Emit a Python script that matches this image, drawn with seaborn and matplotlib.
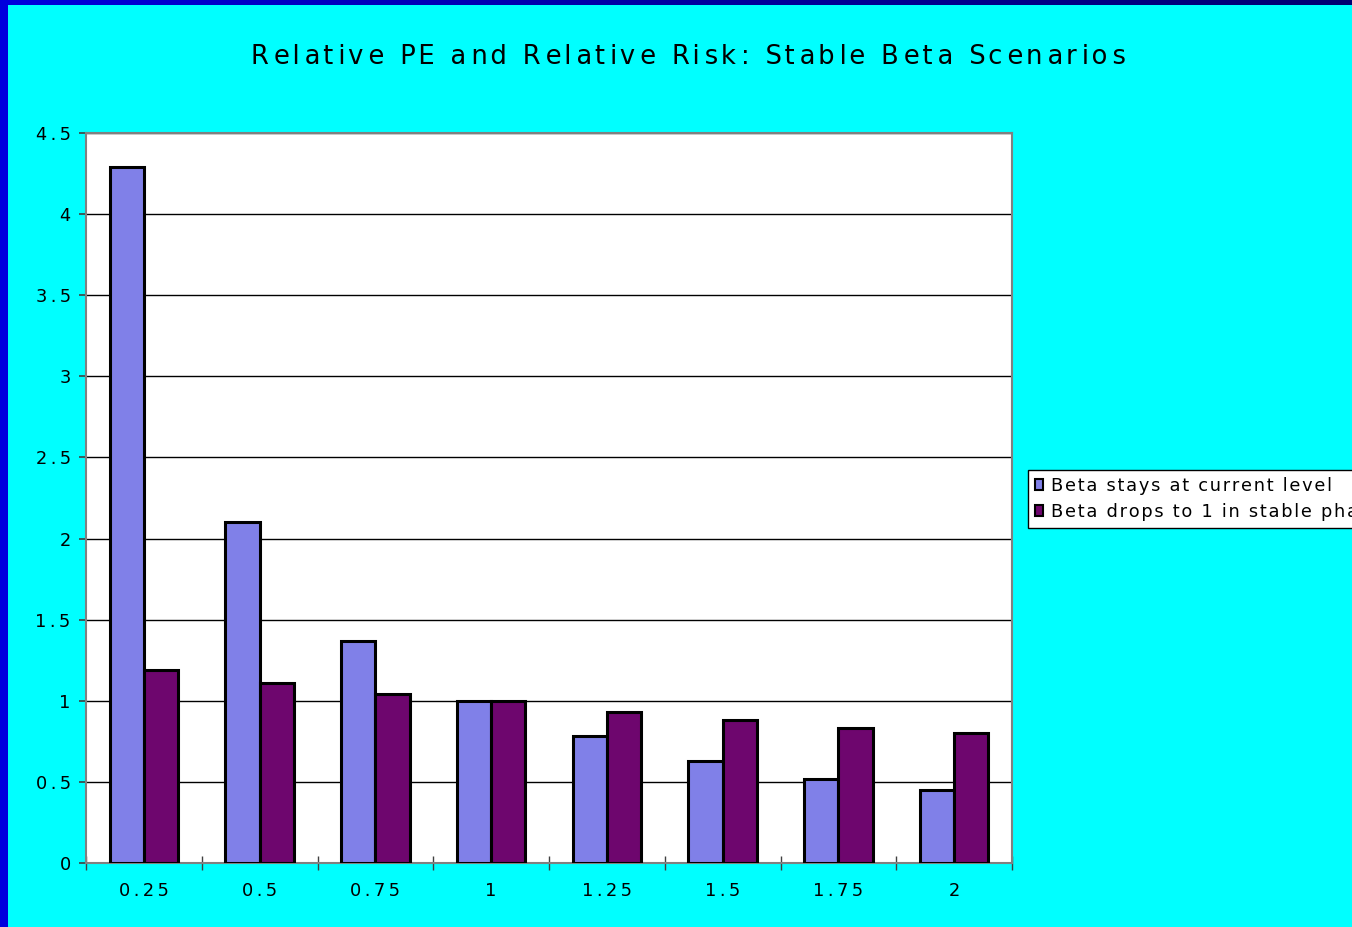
import numpy as np
import pandas as pd
import matplotlib
matplotlib.use("Agg")
import matplotlib.pyplot as plt
from matplotlib.patches import Patch, Rectangle
from matplotlib.ticker import FixedLocator
import seaborn as sns

# Beta levels and relative PE under the two stable-phase scenarios
betas = ["0.25", "0.5", "0.75", "1", "1.25", "1.5", "1.75", "2"]
beta_stays = [4.29, 2.10, 1.37, 1.00, 0.78, 0.63, 0.52, 0.45]
beta_drops = [1.19, 1.11, 1.04, 1.00, 0.93, 0.88, 0.83, 0.80]
series_names = ["Beta stays at current level", "Beta drops to 1 in stable phase"]
y_ticks = [0, 0.5, 1, 1.5, 2, 2.5, 3, 3.5, 4, 4.5]
y_tick_labels = ["0", "0.5", "1", "1.5", "2", "2.5", "3", "3.5", "4", "4.5"]
title = "Relative PE and Relative Risk: Stable Beta Scenarios"

df = pd.DataFrame({
    "beta": betas * 2,
    "pe": beta_stays + beta_drops,
    "scenario": [series_names[0]] * len(betas) + [series_names[1]] * len(betas),
})

sns.set_theme(style="white")
plt.rcParams["font.family"] = ["DejaVu Sans"]

THIN = "\u2009"
HAIR = "\u200a"


def spaced(s, gaps=(THIN,)):
    """Open up letter spacing by putting narrow spaces between characters."""
    out = s[0]
    for i, ch in enumerate(s[1:]):
        out += gaps[i % len(gaps)] + ch
    return out


W, H = 1352, 927
fig = plt.figure(figsize=(W / 100, H / 100), dpi=100)
fig.patch.set_facecolor("#00FFFF")

# blue frame strips (left and top)
fig.patches.append(Rectangle((0, 0), 8 / W, 1, transform=fig.transFigure,
                             facecolor="#0000DD", edgecolor="none", zorder=0))
top_ax = fig.add_axes([0, 1 - 5 / H, 1, 5 / H])
grad = np.linspace(0, 1, 256).reshape(1, -1)
top_ax.imshow(grad, aspect="auto",
              cmap=matplotlib.colors.LinearSegmentedColormap.from_list(
                  "strip", ["#0000DD", "#0000A0", "#000070"]))
top_ax.set_axis_off()

ax = fig.add_axes([86 / W, (H - 863) / H, (1012 - 86) / W, (863 - 133) / H])
ax.set_facecolor("white")

palette = {series_names[0]: "#8080E8", series_names[1]: "#6E066E"}
sns.barplot(data=df, x="beta", y="pe", hue="scenario", order=betas,
            hue_order=series_names, palette=palette, saturation=1,
            width=0.59, gap=0, edgecolor="black", linewidth=2.2,
            ax=ax, legend=False, zorder=3)

ax.set_xlim(-0.5, len(betas) - 0.5)
ax.set_ylim(0, 4.5)
ax.set_yticks(y_ticks)
ax.set_yticklabels([spaced(t) for t in y_tick_labels])
ax.set_xticks(range(len(betas)))
ax.set_xticklabels([spaced(b) for b in betas])
ax.yaxis.grid(True, color="black", linewidth=1.0, zorder=0)
ax.set_axisbelow(True)
ax.set_xlabel("")
ax.set_ylabel("")

for side in ["top", "right", "left", "bottom"]:
    ax.spines[side].set_color("#808080")
    ax.spines[side].set_linewidth(1.5)

ax.tick_params(axis="y", which="major", left=True, length=5, width=1.2,
               color="#404040", direction="out", pad=6, labelsize=12.8,
               labelcolor="black")
ax.tick_params(axis="x", which="major", bottom=True, length=0, pad=14,
               labelsize=12.8, labelcolor="black")
ax.xaxis.set_minor_locator(FixedLocator(np.arange(-0.5, len(betas), 1.0)))
ax.tick_params(axis="x", which="minor", bottom=True, length=10, width=1.0,
               color="#404040", direction="inout")

fig.text(688 / W, 1 - 57 / H, spaced(title, gaps=(THIN, HAIR)),
         ha="center", va="center", fontsize=18.5, color="black")

handles = [Patch(facecolor=palette[n], edgecolor="black", linewidth=1.5) for n in series_names]
leg = fig.legend(handles, [spaced(n, gaps=(HAIR,)) for n in series_names],
                 loc="center left", bbox_to_anchor=(1028 / W, 1 - 499 / H),
                 frameon=True, fancybox=False, framealpha=1, fontsize=12.8,
                 handlelength=0.45, handleheight=0.6, handletextpad=0.45,
                 borderpad=0.42, labelspacing=0.45, borderaxespad=0)
leg.get_frame().set_edgecolor("black")
leg.get_frame().set_facecolor("white")
leg.get_frame().set_linewidth(1.0)
for t in leg.get_texts():
    t.set_color("black")

fig.savefig("out.png", dpi=100, facecolor=fig.get_facecolor())
